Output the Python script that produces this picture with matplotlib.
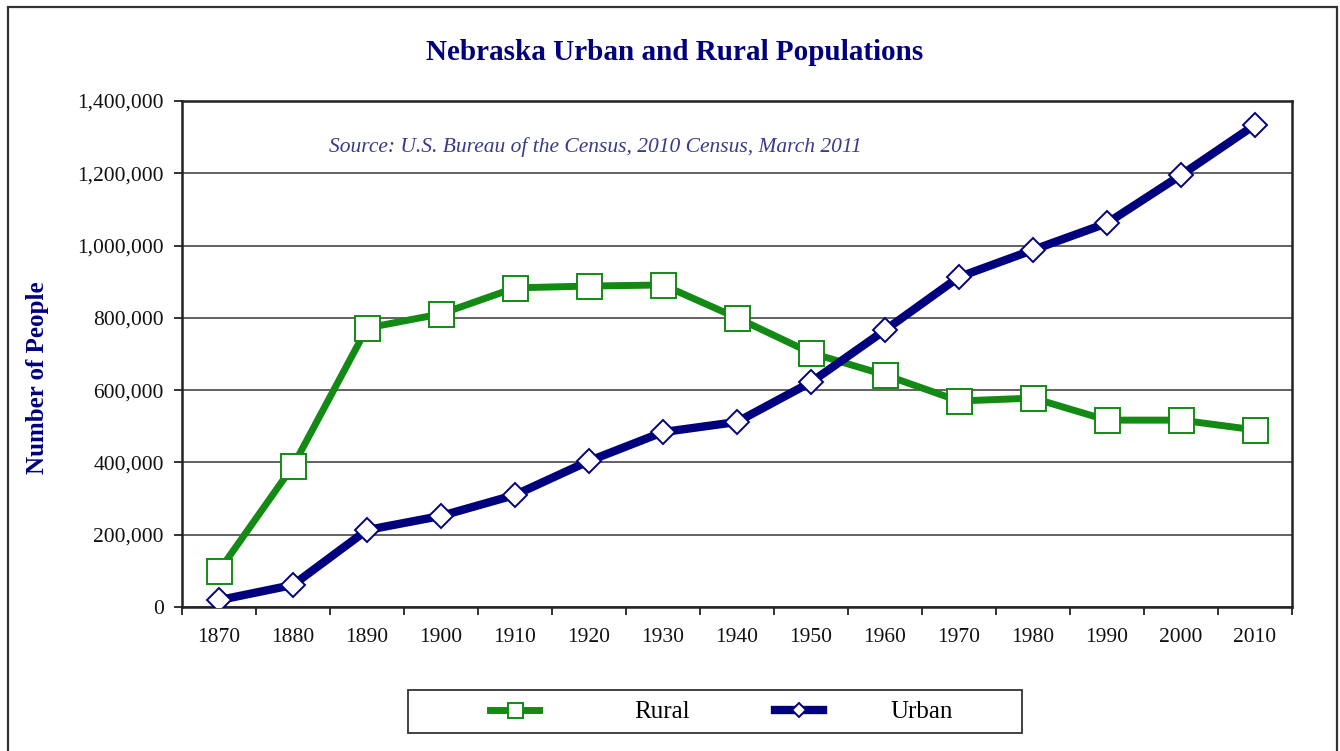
import matplotlib
matplotlib.use("Agg")
import matplotlib.pyplot as plt
from matplotlib.patches import Rectangle
from matplotlib.ticker import FuncFormatter, FixedLocator
import numpy as np

years = ["1870", "1880", "1890", "1900", "1910", "1920", "1930", "1940",
         "1950", "1960", "1970", "1980", "1990", "2000", "2010"]
rural = [100000, 390000, 772000, 811000, 883000, 888000, 891000, 800000,
         703000, 642000, 570000, 578000, 517000, 517000, 490000]
urban = [19000, 61000, 213000, 252000, 310000, 404000, 484000, 512000,
         622000, 766000, 913000, 988000, 1062000, 1195000, 1334000]

W, H = 1340, 751
fig = plt.figure(figsize=(W / 100, H / 100), dpi=100)
plt.rcParams['font.family'] = ['Liberation Serif', 'DejaVu Serif']

GREEN = "#138a13"
NAVY = "#00007f"

# outer frame
fig.patches.append(Rectangle((8 / W, -0.05), (1337 - 8) / W, 1.05 - 7 / H,
                             transform=fig.transFigure, fill=False,
                             edgecolor="#333333", linewidth=1.6))

ax = fig.add_axes([182 / W, (H - 607) / H, (1292 - 182) / W, (607 - 101) / H])
x = np.arange(len(years))

l_r, = ax.plot(x, rural, color=GREEN, linewidth=5, marker="s", markersize=18,
               markerfacecolor="white", markeredgecolor=GREEN, markeredgewidth=1.4,
               label="Rural", zorder=3)
l_u, = ax.plot(x, urban, color=NAVY, linewidth=6, marker="D", markersize=12,
               markerfacecolor="white", markeredgecolor=NAVY, markeredgewidth=1.4,
               label="Urban", zorder=4)

ax.set_xlim(-0.5, len(years) - 0.5)
ax.set_ylim(0, 1400000)
ax.set_yticks(np.arange(0, 1400001, 200000))
ax.yaxis.set_major_formatter(FuncFormatter(lambda v, p: f"{int(v):,}"))
ax.set_xticks(x)
ax.set_xticklabels(years)
ax.xaxis.set_minor_locator(FixedLocator(np.arange(-0.5, len(years), 1.0)))
ax.tick_params(axis="x", which="major", length=0, pad=15, labelsize=15.5,
               labelcolor="#111111")
ax.tick_params(axis="x", which="minor", length=6, width=1.3, direction="out",
               color="#222222")
ax.tick_params(axis="y", length=6, width=1.3, direction="out", pad=7,
               labelsize=15.5, labelcolor="#111111", color="#222222")

ax.grid(axis="y", color="#555555", linewidth=1.3)
ax.set_axisbelow(True)
for s in ax.spines.values():
    s.set_color("#222222")
    s.set_linewidth(1.8)

ax.set_ylabel("Number of People", fontsize=18, fontweight="bold",
              color=NAVY, labelpad=0, va="center")
ax.yaxis.set_label_coords((38 - 182) / (1292 - 182), (607 - 378) / (607 - 101))

fig.text(675 / W, 1 - 53 / H, "Nebraska Urban and Rural Populations",
         ha="center", va="center", fontsize=21, fontweight="bold", color=NAVY)
ax.text(595 / W, 1 - 147 / H, "Source: U.S. Bureau of the Census, 2010 Census, March 2011",
        transform=fig.transFigure, ha="center", va="center", fontsize=15.5,
        style="italic", color="#3a3a8c")

# legend
fig.patches.append(Rectangle((408 / W, 1 - 733 / H), (1022 - 408) / W, (733 - 690) / H,
                             transform=fig.transFigure, fill=False,
                             edgecolor="#333333", linewidth=1.3))
fig.legend(handles=[l_r], loc="center", bbox_to_anchor=(590 / W, 1 - 712 / H),
           frameon=False, fontsize=18, handlelength=1.95,
           handletextpad=3.8, markerscale=0.6, borderpad=0, borderaxespad=0)
fig.legend(handles=[l_u], loc="center", bbox_to_anchor=(864 / W, 1 - 712 / H),
           frameon=False, fontsize=18, handlelength=1.95,
           handletextpad=2.7, markerscale=0.6, borderpad=0, borderaxespad=0)

fig.savefig("out.png", dpi=100)
